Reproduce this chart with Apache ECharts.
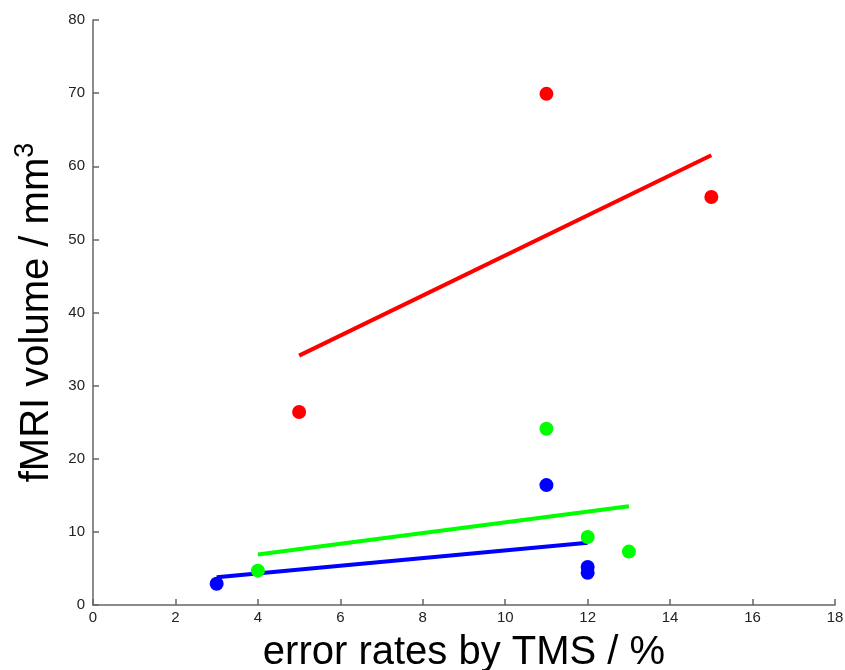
<!DOCTYPE html>
<html>
<head>
<meta charset="utf-8">
<script src="https://cdn.jsdelivr.net/npm/echarts@6/dist/echarts.min.js"></script>
<style>
  html, body { margin: 0; padding: 0; background: #fff; }
  #chart { width: 845px; height: 670px; }
</style>
</head>
<body>
<div id="chart"></div>
<script>
// 散点数据 [误差率, 体积]
const redPoints = [[5, 26.4], [11, 69.9], [15, 55.8]];
const greenPoints = [[4, 4.7], [11, 24.1], [12, 9.3], [13, 7.3]];
const bluePoints = [[3, 2.9], [11, 16.4], [12, 5.2], [12, 4.4]];

// 拟合线端点
const redFit = [[5, 34.1], [15, 61.5]];
const greenFit = [[4, 6.9], [13, 13.5]];
const blueFit = [[3, 3.8], [12, 8.5]];

const xTicks = [0, 2, 4, 6, 8, 10, 12, 14, 16, 18];
const yTicks = [0, 10, 20, 30, 40, 50, 60, 70, 80];

const chart = echarts.init(document.getElementById('chart'));

function scatter(data, color) {
    return {
        type: 'scatter',
        data: data,
        symbol: 'circle',
        symbolSize: 14,
        itemStyle: { color: color, opacity: 1 },
        z: 3
    };
}

function fitLine(data, color) {
    return {
        type: 'line',
        data: data,
        symbol: 'none',
        lineStyle: { color: color, width: 4 },
        z: 2
    };
}

const axisCommon = {
    axisLine: { show: true, lineStyle: { color: '#666', width: 1.5 } },
    axisTick: { show: true, inside: true, length: 6, lineStyle: { color: '#666', width: 1.5 } },
    splitLine: { show: false },
    axisLabel: { color: '#222', fontSize: 15, fontFamily: 'Liberation Sans' }
};

chart.setOption({
    animation: false,
    backgroundColor: '#fff',
    grid: { left: 93, right: 10, top: 20, bottom: 65, containLabel: false, outerBoundsMode: 'none' },
    xAxis: Object.assign({}, axisCommon, {
        type: 'value',
        min: xTicks[0],
        max: xTicks[xTicks.length - 1],
        interval: 2,
        name: 'error rates by TMS / %',
        nameLocation: 'middle',
        nameGap: 28,
        nameTextStyle: { fontSize: 40, color: '#000', fontFamily: 'Liberation Sans' },
        axisLabel: Object.assign({}, axisCommon.axisLabel, { margin: 5 })
    }),
    yAxis: Object.assign({}, axisCommon, {
        type: 'value',
        min: yTicks[0],
        max: yTicks[yTicks.length - 1],
        interval: 10,
        name: '{a|fMRI volume / mm}{b|3}',
        nameLocation: 'middle',
        nameGap: 22,
        nameRotate: 90,
        nameTextStyle: {
            color: '#000',
            fontFamily: 'Liberation Sans',
            rich: {
                a: { fontSize: 40, color: '#000', fontFamily: 'Liberation Sans' },
                b: { fontSize: 27, color: '#000', fontFamily: 'Liberation Sans', padding: [0, 0, 24, 0] }
            }
        },
        axisLabel: Object.assign({}, axisCommon.axisLabel, { margin: 8 })
    }),
    series: [
        fitLine(redFit, '#ff0000'),
        fitLine(greenFit, '#00ff00'),
        fitLine(blueFit, '#0000ff'),
        scatter(redPoints, '#ff0000'),
        scatter(greenPoints, '#00ff00'),
        scatter(bluePoints, '#0000ff')
    ]
});
</script>
</body>
</html>
